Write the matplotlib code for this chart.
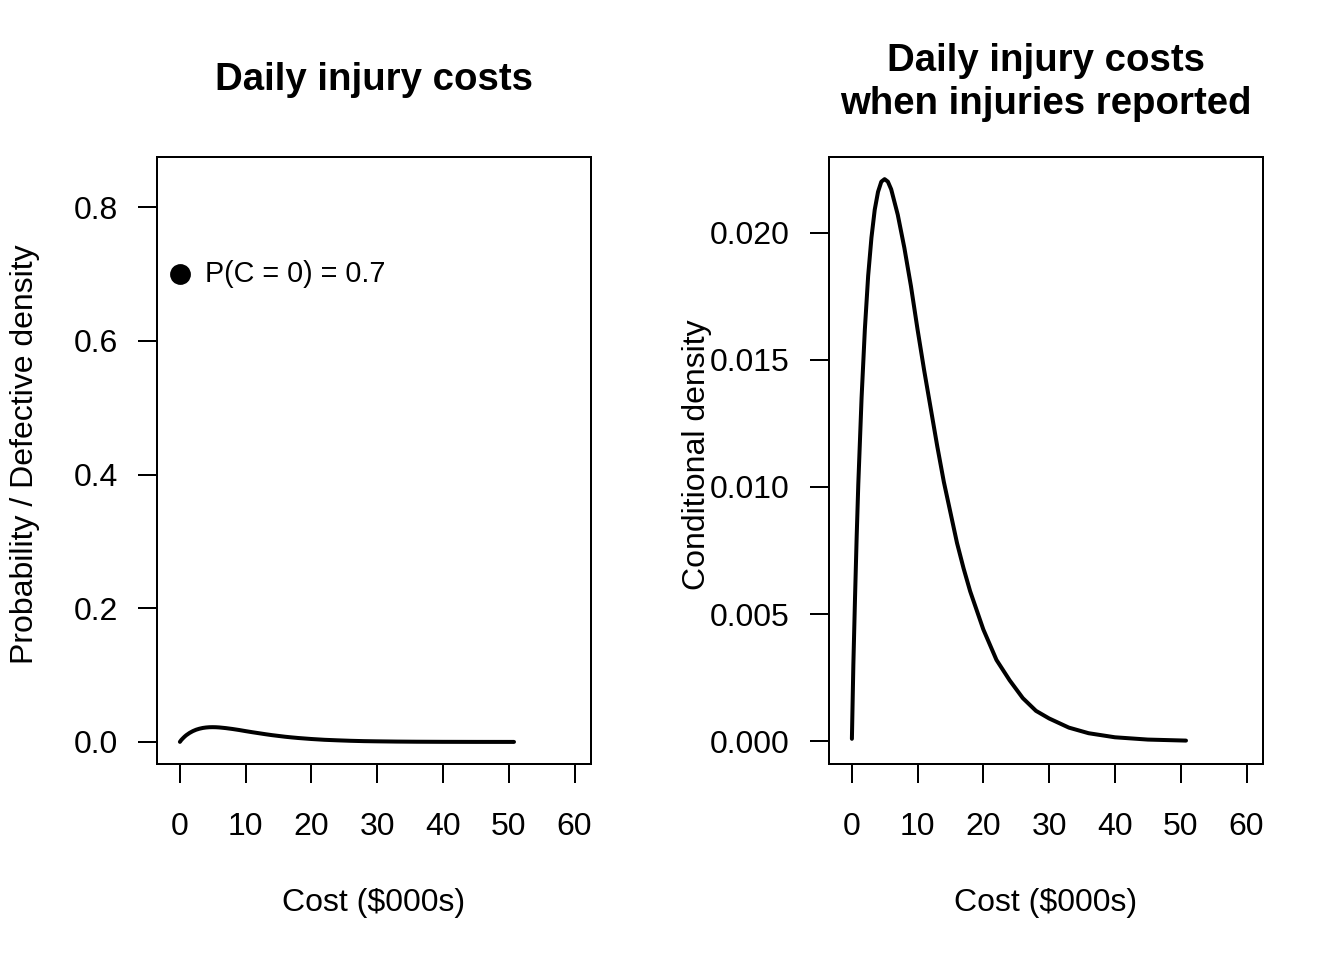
import matplotlib
matplotlib.use("Agg")
import matplotlib.pyplot as plt

plt.rcParams['font.family'] = ['Liberation Sans', 'DejaVu Sans']

# cost (in $000s) and density values
cost = [0.03, 0.25, 0.5, 0.75, 1.0, 1.5, 2.0, 2.5, 3.0, 3.5, 4.0, 4.5, 5.0,
        5.5, 6.0, 7.0, 8.0, 9.0, 10.0, 11.0, 12.0, 13.0, 14.0, 15.0, 16.0,
        17.0, 18.0, 20.0, 22.0, 24.0, 26.0, 28.0, 30.0, 33.0, 36.0, 40.0,
        45.0, 50.8]
density = [0.0001, 0.0030, 0.0056, 0.0080, 0.0101, 0.0135, 0.0162, 0.0183,
           0.0198, 0.0209, 0.0216, 0.0220, 0.0221, 0.0220, 0.0217, 0.0207,
           0.0194, 0.0179, 0.0162, 0.0146, 0.0131, 0.0116, 0.0102, 0.0090,
           0.0078, 0.0068, 0.0059, 0.0044, 0.0032, 0.0024, 0.0017, 0.0012,
           0.0009, 0.00054, 0.00032, 0.00016, 0.00007, 0.00003]
p_zero = 0.7

x_ticks = [0, 10, 20, 30, 40, 50, 60]
left_yticks = [0.0, 0.2, 0.4, 0.6, 0.8]
right_yticks = [0.000, 0.005, 0.010, 0.015, 0.020]

fig = plt.figure(figsize=(7, 5), dpi=192)
ax1 = fig.add_axes([157 / 1344, 1 - 764 / 960, 434 / 1344, 607 / 960])
ax2 = fig.add_axes([829 / 1344, 1 - 764 / 960, 434 / 1344, 607 / 960])


def style(ax):
    for s in ax.spines.values():
        s.set_linewidth(0.75)
    ax.tick_params(direction='out', length=7.2, width=0.75, labelsize=12, pad=7.5)
    ax.tick_params(axis='x', pad=10.7)
    ax.set_xticks(x_ticks)
    ax.set_xlim(-3.45, 62.5)
    ax.set_xlabel('Cost ($000s)', fontsize=12)
    ax.xaxis.set_label_coords(0.5, -0.229)
    ax.xaxis.label.set_va('center')


# left: probability mass at zero + defective density
ax1.plot(cost, density, color='black', lw=1.5, solid_capstyle='round')
ax1.plot([0], [p_zero], 'o', color='black', markersize=6.8)
ax1.text(3.8, p_zero, 'P(C = 0) = 0.7', fontsize=10.8, ha='left', va='center')
style(ax1)
ax1.set_ylim(-0.033, 0.875)
ax1.set_yticks(left_yticks)
ax1.set_yticklabels([f'{v:.1f}' for v in left_yticks])
ax1.set_ylabel('Probability / Defective density', fontsize=12)
ax1.yaxis.set_label_coords(-0.304, 0.51)
ax1.yaxis.label.set_va('center')
ax1.text(0.5, 1.127, 'Daily injury costs', transform=ax1.transAxes,
         ha='center', va='center', fontsize=14.4, fontweight='bold')

# right: conditional density
ax2.plot(cost, density, color='black', lw=1.5, solid_capstyle='round')
style(ax2)
ax2.set_ylim(-0.00089, 0.02297)
ax2.set_yticks(right_yticks)
ax2.set_yticklabels([f'{v:.3f}' for v in right_yticks])
ax2.set_ylabel('Conditional density', fontsize=12)
ax2.yaxis.set_label_coords(-0.304, 0.51)
ax2.yaxis.label.set_va('center')
ax2.text(0.5, 1.122, 'Daily injury costs\nwhen injuries reported', transform=ax2.transAxes,
         ha='center', va='center', fontsize=14.4, fontweight='bold', linespacing=1.25)

fig.savefig('out.png', dpi=192)
